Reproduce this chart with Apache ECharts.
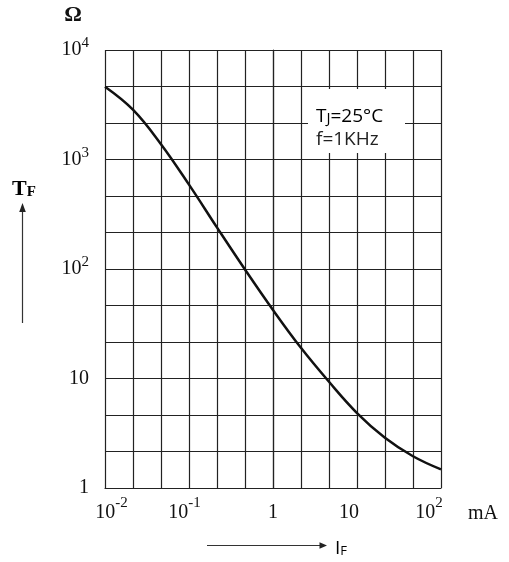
<!DOCTYPE html>
<html><head><meta charset="utf-8">
<script src="https://cdn.jsdelivr.net/npm/echarts@6/dist/echarts.min.js"></script>
<style>html,body{margin:0;padding:0;background:#fff}#c{width:509px;height:562px}</style>
</head><body><div id="c"></div>
<script>
// Forward current I_F (mA) and resistance T_F (ohm)
const currentMA = [0.01, 0.0215, 0.0464, 0.1, 0.215, 0.464, 1, 2.15, 4.64, 10, 21.5, 46.4, 100];
const resistanceOhm = [4620, 2850, 1380, 589, 240, 98.9, 42.2, 19.05, 9.33, 4.84, 2.88, 1.95, 1.48];
const xTickLabels = ['10^-2', '10^-1', '1', '10', '10^2'];
const yTickLabels = ['1', '10', '10^2', '10^3', '10^4'];

// axes are in units of one third of a decade (grid has 3 lines per decade)
const T = v => 3 * Math.log10(v);
const seriesData = currentMA.map((x, i) => [T(x), T(resistanceOhm[i])]);

const serif = 'Liberation Serif';
const xShift = [6.5, -4.5, 0, -8, -12];

function richLabel(str, prefix) {
  const parts = str.split('^');
  let s = '{' + prefix + 'b|' + parts[0] + '}';
  if (parts[1] !== undefined) s += '{' + prefix + 's|' + parts[1] + '}';
  return s;
}

function buildRich(prefix, lh, shifts, labels) {
  const rich = {};
  labels.forEach((lab, i) => {
    const hasSup = lab.indexOf('^') >= 0;
    const d = shifts ? shifts[i] : 0;
    const padL = d > 0 ? 2 * d : 0, padR = d < 0 ? -2 * d : 0;
    rich[prefix + i + 'b'] = {fontFamily: serif, fontSize: 20, color: '#111', lineHeight: lh,
      padding: [0, hasSup ? 0 : padR, 0, padL]};
    rich[prefix + i + 's'] = {fontFamily: serif, fontSize: 15, color: '#111', lineHeight: 15,
      verticalAlign: 'top', padding: [0, padR, 0, 0]};
  });
  return rich;
}

const xRich = buildRich('x', 34, xShift, xTickLabels);
const yRich = buildRich('y', 28, null, yTickLabels);

const chart = echarts.init(document.getElementById('c'), null, {renderer: 'canvas'});
const gridLine = {show: true, lineStyle: {color: '#222', width: 1.2}};

chart.setOption({
  animation: false,
  backgroundColor: '#fff',
  grid: {left: 105, top: 50, width: 336, height: 438, containLabel: false},
  xAxis: {
    type: 'value', min: -6, max: 6, interval: 1,
    axisLine: {show: true, lineStyle: {color: '#222', width: 1.2}},
    axisTick: {show: false},
    splitLine: gridLine,
    axisLabel: {
      margin: 8, showMinLabel: true, showMaxLabel: true,
      formatter: v => {
        const r = Math.round(v);
        if (Math.abs(v - r) > 1e-6 || r % 3 !== 0) return '';
        const i = (r + 6) / 3;
        return richLabel(xTickLabels[i], 'x' + i);
      },
      rich: xRich
    }
  },
  yAxis: {
    type: 'value', min: 0, max: 12, interval: 1,
    axisLine: {show: true, lineStyle: {color: '#222', width: 1.2}},
    axisTick: {show: false},
    splitLine: gridLine,
    axisLabel: {
      margin: 16, align: 'right', showMinLabel: true, showMaxLabel: true,
      formatter: v => {
        const r = Math.round(v);
        if (Math.abs(v - r) > 1e-6 || r % 3 !== 0) return '';
        const i = r / 3;
        return richLabel(yTickLabels[i], 'y' + i);
      },
      rich: yRich
    }
  },
  series: [{
    type: 'line', data: seriesData, smooth: 0.4, showSymbol: false, z: 5,
    lineStyle: {color: '#111', width: 2.5}
  }],
  graphic: [
    {type: 'rect', z: 10, shape: {x: 308, y: 89, width: 97, height: 64}, style: {fill: '#fff'}},
    {type: 'text', z: 11, x: 316, y: 115, style: {
      text: '{t|T}{s|J}{t|=25°C}', verticalAlign: 'middle', align: 'left',
      rich: {t: {fontFamily: 'Open Sans', fontSize: 19, color: '#222', lineHeight: 22, verticalAlign: 'bottom'},
             s: {fontFamily: 'Open Sans', fontSize: 15, color: '#222', lineHeight: 20, verticalAlign: 'bottom'}}
    }},
    {type: 'text', z: 11, x: 316, y: 140, style: {
      text: 'f=1KHz', fontFamily: 'Open Sans', fontSize: 19, fill: '#222', verticalAlign: 'middle', align: 'left'
    }},
    {type: 'text', z: 11, x: 73, y: 15, style: {
      text: 'Ω', fontFamily: serif, fontWeight: 'bold', fontSize: 22, fill: '#111', align: 'center', verticalAlign: 'middle'
    }},
    {type: 'text', z: 11, x: 12, y: 188, style: {
      text: '{t|T}{s|F}', align: 'left', verticalAlign: 'middle',
      rich: {t: {fontFamily: serif, fontWeight: 'bold', fontSize: 22, color: '#111', lineHeight: 24, verticalAlign: 'bottom'},
             s: {fontFamily: serif, fontWeight: 'bold', fontSize: 15, color: '#111', lineHeight: 20, verticalAlign: 'bottom'}}
    }},
    {type: 'line', z: 11, shape: {x1: 22.5, y1: 323, x2: 22.5, y2: 210}, style: {stroke: '#333', lineWidth: 1.2}},
    {type: 'polygon', z: 11, shape: {points: [[22.5, 203], [19.2, 212], [25.8, 212]]}, style: {fill: '#222'}},
    {type: 'line', z: 11, shape: {x1: 207, y1: 545.5, x2: 321, y2: 545.5}, style: {stroke: '#333', lineWidth: 1.2}},
    {type: 'polygon', z: 11, shape: {points: [[327, 545.5], [319.5, 542.2], [319.5, 548.8]]}, style: {fill: '#222'}},
    {type: 'text', z: 11, x: 335, y: 547, style: {
      text: '{t|I}{s|F}', align: 'left', verticalAlign: 'middle',
      rich: {t: {fontFamily: 'Open Sans', fontSize: 19, color: '#222', lineHeight: 22, verticalAlign: 'bottom'},
             s: {fontFamily: 'Open Sans', fontSize: 13, color: '#222', lineHeight: 18.4, verticalAlign: 'bottom'}}
    }},
    {type: 'text', z: 11, x: 468, y: 514, style: {
      text: 'mA', fontFamily: serif, fontSize: 20, fill: '#111', align: 'left', verticalAlign: 'middle'
    }}
  ]
});
</script>
</body></html>
